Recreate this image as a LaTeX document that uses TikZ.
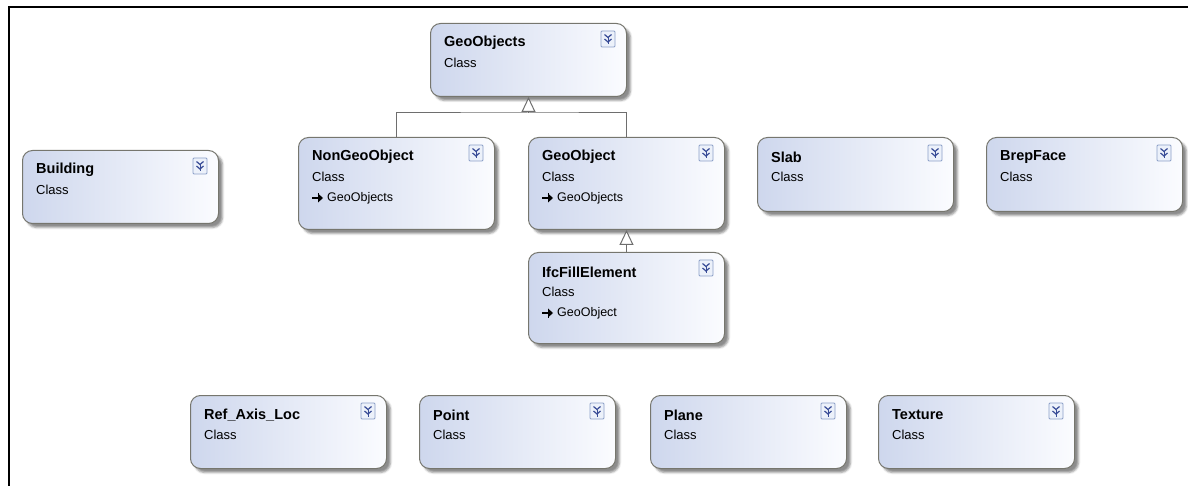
\documentclass[tikz,border=0pt]{standalone}
\usepackage{fontspec}
\setmainfont{Liberation Sans}
\usetikzlibrary{arrows.meta,shadows.blur,calc}
\definecolor{boxleft}{RGB}{206,215,237}
\definecolor{boxright}{RGB}{251,252,255}
\definecolor{boxborder}{RGB}{118,118,110}
\definecolor{conncol}{RGB}{110,110,110}
\definecolor{iconblue}{RGB}{55,75,150}
\definecolor{iconedge}{RGB}{140,160,200}
\definecolor{iconfill}{RGB}{236,241,250}

\newcommand\umlclass[5]{% name, x, y, height, title
  \node[cls=#4] (#1) at (#2,#3) {};
  \node[ttl] (#1-t) at ([shift={(14,20)}]#1.north west) {#5};
  \node[subcls] (#1-c) at ([shift={(14,40)}]#1.north west) {Class};
  \pic at ([shift={(-19,16)}]#1.north east) {expander};
}
\newcommand\umlbase[2]{% name, base class
  \pic at ([shift={(19,61)}]#1.north west) {inh};
  \node[basecls] (#1-b) at ([shift={(29,61)}]#1.north west) {#2};
}

\begin{document}
\begin{tikzpicture}[x=1pt,y=-1pt,
  cls/.style={draw=boxborder, line width=1pt, rounded corners=10pt,
    left color=boxleft, right color=boxright,
    minimum width=196pt, minimum height=#1, inner sep=0pt, anchor=north west,
    blur shadow={shadow xshift=4pt, shadow yshift=-4pt, shadow blur steps=4,
      shadow blur radius=2pt, shadow opacity=45}},
  cls/.default=73pt,
  ttl/.style={font=\bfseries\fontsize{14.5}{16}\selectfont, anchor=west, inner sep=0pt},
  subcls/.style={font=\fontsize{13}{15}\selectfont, anchor=west, inner sep=0pt},
  basecls/.style={font=\fontsize{12.5}{14}\selectfont, anchor=west, inner sep=0pt},
  conn/.style={draw=conncol, line width=1pt},
  gen/.style={-{Triangle[open, length=15pt, width=14pt, fill=white]}},
  expander/.pic={
    \draw[draw=iconedge, fill=iconfill, line width=0.8pt, rounded corners=1pt] (-7,-8) rectangle (7,8);
    \draw[iconblue, line width=1.2pt] (-3.5,-4.5) -- (0,-1.5) -- (3.5,-4.5);
    \draw[iconblue, line width=1.2pt] (-3.5,0) -- (0,3) -- (3.5,0);
    \draw[iconblue, line width=1pt] (0,-1.5) -- (0,5.5);
  },
  inh/.pic={
    \draw[black, line width=1.3pt] (-5,0) -- (1,0);
    \draw[black, line width=1pt] (1,-4.5) -- (1,4.5);
    \fill[black] (1,-4.5) -- (6,0) -- (1,4.5) -- cycle;
  }
]
\useasboundingbox (0,0) rectangle (1188,486);
\draw[line width=2.5pt] (9,486) -- (9,7) -- (1188,7);

\umlclass{geos}{430}{23}{73pt}{GeoObjects}
\umlclass{bld}{22}{150}{73pt}{Building}
\umlclass{ngo}{298}{137}{92pt}{NonGeoObject}
\umlbase{ngo}{GeoObjects}
\umlclass{go}{528}{137}{92pt}{GeoObject}
\umlbase{go}{GeoObjects}
\umlclass{slab}{757}{137}{74pt}{Slab}
\umlclass{brep}{986}{137}{74pt}{BrepFace}
\umlclass{ife}{528}{252}{91pt}{IfcFillElement}
\umlbase{ife}{GeoObject}
\umlclass{ref}{190}{395}{73pt}{Ref\_Axis\_Loc}
\umlclass{pt}{419}{395}{73pt}{Point}
\umlclass{plane}{650}{395}{73pt}{Plane}
\umlclass{tex}{878}{395}{73pt}{Texture}

\coordinate (j) at ($(geos.south)+(0,16)$);
\draw[conn] (ngo.north) |- (j) -| (go.north);
\draw[conn, gen] (j) -- (geos.south);
\draw[conn, gen] (ife.north) -- (go.south);
\end{tikzpicture}
\end{document}
